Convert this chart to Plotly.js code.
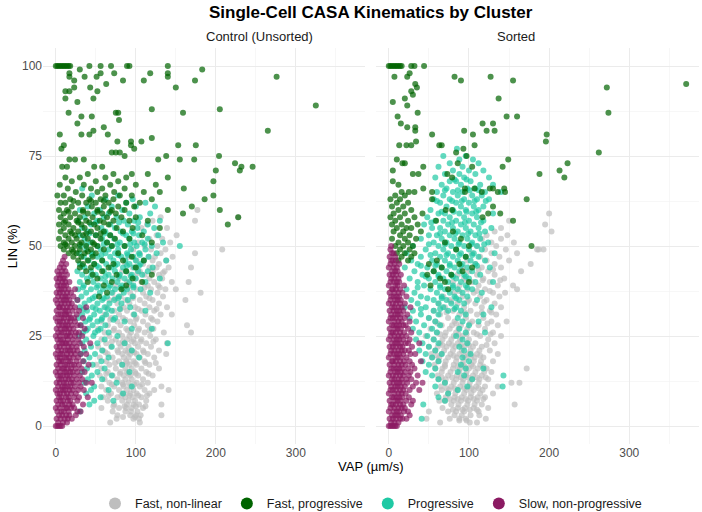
<!DOCTYPE html>
<html>
<head>
<meta charset="utf-8">
<script src="https://cdn.plot.ly/plotly-3.0.1.min.js"></script>
<style>
  html, body { margin: 0; padding: 0; background: #ffffff; }
  #chart { width: 702px; height: 512px; }
</style>
</head>
<body>
<div id="chart"></div>
<script>
// cluster names and colours, legend order
const clusters = ['Fast, non-linear', 'Fast, progressive', 'Progressive', 'Slow, non-progressive'];
const colors = ['#BEBEBE', '#006400', '#1FC9A4', '#8B1A62'];
const panels = ['Control (Unsorted)', 'Sorted'];

// each row: [LIN (%), [VAP (um/s) of the cells at that LIN]]
// ---- Control (Unsorted) ----
const ctrlFastNonLinear = [
  [60, [177]], [58, [228, 131]], [57, [174, 121]], [56, [114]], [55, [107, 139]],
  [53, [126, 151]], [52, [117, 133]], [51, [103, 143]], [50, [111, 127]],
  [49, [208, 97, 137, 119]], [48, [174, 105, 131]], [47, [91, 116, 124, 146]],
  [46, [101, 121, 138]], [45, [87, 109, 129]], [44, [169, 96, 117, 126, 141]],
  [43, [83, 105, 121, 136]], [42.5, [102, 134]], [42, [93, 111, 129]], [41, [79, 99, 117, 133]],
  [40, [166, 89, 107, 123, 145]], [39, [75, 95, 115, 128]], [38.5, [90, 111, 130]],
  [38, [150, 85, 101, 119, 137]], [37, [181, 71, 93, 109, 127]], [36, [81, 97, 113, 134]],
  [35.5, [74, 96, 117]], [35, [162, 67, 87, 105, 121]], [34, [77, 92, 111, 129]],
  [33, [63, 85, 99, 117, 139]], [32.5, [81, 103, 126]], [32, [73, 89, 107, 123]],
  [31, [145, 61, 79, 97, 112, 131]], [30, [69, 84, 101, 119]], [29.5, [68, 87, 100, 121]],
  [29, [57, 77, 93, 109, 127]], [28, [164, 65, 81, 98, 115]], [27, [53, 73, 88, 104, 122]],
  [26.5, [72, 90, 103, 117]], [26, [169, 61, 79, 94, 111, 135]], [25, [67, 83, 92, 101, 118]],
  [24, [57, 75, 89, 97, 107, 125]], [23.5, [70, 84, 95, 106, 122]], [23, [63, 79, 86, 99, 113, 139]],
  [22, [53, 69, 81, 91, 103, 119]], [21, [59, 77, 87, 95, 109, 129]], [20.5, [62, 78, 90, 98, 110]],
  [20, [138, 65, 83, 93, 101, 115]], [19, [55, 71, 85, 91, 105, 123]], [18, [63, 79, 88, 97, 111]],
  [17.5, [74, 89, 99, 112, 125]], [17, [51, 67, 83, 92, 101, 117]], [16, [57, 75, 87, 95, 107, 129]],
  [15, [65, 81, 89, 99, 113]], [14.5, [63, 80, 91, 100, 116]], [14, [55, 71, 85, 93, 103, 121]],
  [13, [61, 77, 87, 95, 109]], [12, [67, 83, 91, 101, 115]], [11.5, [70, 84, 98, 108]],
  [11, [132, 57, 73, 85, 93, 105]], [10, [141, 63, 79, 89, 97, 111, 123]], [9, [69, 85, 93, 101, 117]],
  [8.5, [66, 82, 92, 103, 114]], [8, [59, 77, 87, 96, 107]], [7, [65, 83, 91, 99, 113]],
  [6, [132, 73, 89, 97, 104]], [5.5, [72, 86, 100, 112]], [5, [57, 79, 88, 95, 109]],
  [4, [71, 87, 94, 102]], [3, [132, 77, 93, 100, 106]], [2.5, [84, 99]], [2, [76, 97, 104]],
  [1, [68, 105]]
];
const ctrlFastProgressive = [
  [100, [0, 2, 4, 6, 8, 10, 12, 14, 16, 18, 42, 56, 69, 89, 92, 140]],
  [99, [30, 183]], [98, [17, 56, 73, 118, 140]], [97, [17, 36, 51, 140, 276]],
  [96, [23, 84, 110, 174]], [95, [63]], [94, [23, 43, 150]], [93, [12, 17, 52]],
  [91, [12, 47]], [90, [27]], [89, [325]], [88, [120, 205]], [87, [16, 75, 78, 159]],
  [86, [32, 45]], [85, [79]], [84, [27]], [83, [60]], [82, [47, 265]],
  [81, [5, 32, 42, 65]], [80, [120]], [79, [77, 94, 107]], [78, [10, 94, 153, 175]],
  [77, [7, 98]], [76, [70, 75, 80]], [75, [86, 138, 204]], [74, [17, 24, 35, 128, 155, 173]],
  [73, [224]], [72, [8, 14, 48, 58, 232, 246]], [71, [200, 230]], [70, [40, 72, 95, 115]],
  [69, [12, 30, 62, 88, 140]], [68, [20, 50, 78, 197]], [67, [5, 35, 68, 100, 125]],
  [66, [15, 44, 58, 86, 160]], [65, [25, 52, 73, 110, 130]], [64, [2, 10, 33, 62, 80, 95, 197]],
  [63, [18, 42, 56, 72, 120, 186]], [62.5, [22, 44, 60]], [62, [6, 12, 28, 38, 50, 66, 88, 105]],
  [61, [20, 45, 60, 78, 98, 170]], [60, [4, 14, 34, 52, 70, 86, 140, 205]],
  [59.5, [16, 34, 52, 68]], [59, [10, 24, 40, 58, 75, 159]], [58, [6, 18, 30, 46, 64, 82, 100, 228]],
  [57, [12, 26, 38, 55, 72, 92, 115]], [56.5, [10, 28, 42, 60]], [56, [4, 16, 32, 48, 66, 215]],
  [55, [10, 22, 36, 52, 76, 96, 130]], [54, [6, 18, 28, 44, 60, 84]], [53.5, [20, 38, 56]],
  [53, [12, 24, 34, 50, 68, 108]], [52, [4, 16, 26, 40, 56, 74, 92]],
  [51, [10, 20, 32, 46, 64, 120]], [50.5, [12, 30, 48]], [50, [6, 14, 24, 38, 52, 70, 86]],
  [49, [10, 20, 30, 44, 60]], [48.5, [22, 40]], [48, [16, 26, 36, 50, 78]], [47, [22, 32, 46, 95]],
  [46, [28, 40, 58, 84, 110]], [45, [34, 48, 72]], [44, [30, 44, 66, 100]],
  [43, [38, 58, 88]], [42, [46, 76, 120]], [41, [52, 96]], [40, [40, 70, 108]],
  [39, [60, 88]], [38, [82]], [37, [64]], [36, [54]]
];
const ctrlProgressive = [
  [66, [33]], [64, [45, 78]], [63, [62, 96]], [62, [88, 112]], [61, [40, 70, 100, 124]],
  [60, [30, 55, 83]], [59, [48, 66, 92, 118]], [58, [36, 60, 76, 105]],
  [57, [28, 52, 85, 98, 130]], [56.5, [50, 79, 103]], [56, [44, 68, 90, 115]],
  [55, [33, 57, 74, 102, 123]], [54, [40, 62, 81, 95, 110]], [53.5, [42, 61, 84, 97]],
  [53, [30, 50, 68, 88, 104, 128]], [52, [36, 58, 73, 92, 115]],
  [51, [44, 64, 80, 98, 108, 134]], [50.5, [38, 60, 77, 93, 111]], [50, [31, 52, 70, 86, 101, 120, 155]],
  [49, [38, 56, 66, 78, 94, 112]], [48, [29, 46, 62, 74, 89, 104, 126]],
  [47.5, [45, 57, 78, 90, 105]], [47, [35, 52, 68, 82, 97, 116]], [46, [41, 58, 72, 87, 100, 110, 138]],
  [45, [30, 48, 63, 77, 92, 106]], [44.5, [33, 51, 74, 89, 104]], [44, [36, 54, 69, 84, 98, 121]],
  [43, [27, 44, 60, 74, 88, 103, 115]], [42, [33, 50, 66, 80, 95, 108]],
  [41.5, [44, 62, 79, 94]], [41, [39, 56, 71, 86, 100, 130]], [40, [30, 47, 62, 77, 92, 112]],
  [39, [35, 53, 68, 83, 97]], [38.5, [34, 51, 66, 81, 97]], [38, [28, 44, 59, 74, 89, 106]],
  [37, [38, 55, 70, 85, 118]], [36, [32, 49, 64, 79, 96]], [35.5, [46, 60, 78]],
  [35, [27, 42, 58, 73, 90]], [34, [36, 52, 67, 82]], [33, [30, 46, 61, 93]],
  [32.5, [35, 50, 65, 80]], [32, [39, 55, 70, 112]], [31, [33, 48, 63, 98]],
  [30, [28, 43, 58, 74]], [29.5, [42, 57, 72]], [29, [37, 52, 86]], [28, [31, 46, 62]],
  [27, [40, 56, 95, 120]], [26.5, [38, 53]], [26, [34, 49, 66]], [25, [29, 47, 77]],
  [24, [38, 61]], [23, [33, 52, 86, 140]], [22, [44, 70]], [21, [36, 58, 95]],
  [20, [31, 49]], [19, [42, 66, 104]], [18, [35, 57]], [17, [46, 83]], [16, [39, 61]],
  [15, [33, 52, 92]], [14, [45, 70]], [13, [40, 58]], [12, [36, 76]], [11, [48, 95]],
  [10, [44, 66]], [9, [38, 84]], [8, [56]], [7, [48, 72]], [6, [42]], [4, [30]]
];
const ctrlSlow = [
  [0, [0, 2, 4, 6, 8]], [1, [3, 9, 14]], [2, [1, 6, 11, 15, 20]], [3, [4, 8, 13, 17, 25]],
  [4, [2, 7, 10, 16, 27, 31]], [5, [0, 5, 12, 14, 19, 23]], [6, [3, 8, 11, 17, 21, 34]],
  [7, [1, 6, 9, 15, 18, 27]], [8, [4, 7, 13, 16, 23, 29, 40]], [9, [2, 5, 10, 14, 19, 25]],
  [10, [0, 6, 9, 12, 17, 21, 28, 35]], [11, [3, 8, 11, 15, 18, 24, 31]],
  [12, [1, 5, 10, 13, 19, 22, 29, 38, 45]], [13, [4, 7, 12, 16, 20, 26, 33]],
  [14, [2, 6, 9, 14, 17, 23, 30]], [15, [0, 5, 11, 13, 18, 21, 27, 36]],
  [16, [3, 8, 10, 15, 19, 25, 32]], [17, [1, 6, 12, 14, 20, 23, 29, 41]],
  [18, [4, 7, 9, 16, 18, 26, 34]], [19, [2, 5, 11, 13, 17, 22, 28]],
  [20, [0, 6, 8, 14, 19, 24, 31, 38]], [21, [3, 7, 12, 15, 18, 22, 27]],
  [22, [1, 5, 10, 16, 20, 26, 35]], [23, [4, 8, 11, 13, 17, 23, 30, 43]],
  [24, [2, 6, 9, 15, 21, 28]], [25, [0, 5, 12, 14, 18, 24, 33]],
  [26, [3, 7, 10, 16, 19, 25, 29]], [27, [1, 6, 11, 13, 17, 22, 36]],
  [28, [4, 8, 12, 15, 20, 27, 31]], [29, [2, 5, 9, 14, 18, 24]],
  [30, [0, 7, 10, 16, 19, 23, 34]], [31, [3, 6, 11, 13, 17, 26]], [32, [1, 8, 12, 15, 21, 29]],
  [33, [4, 5, 9, 14, 18, 24, 38]], [34, [2, 7, 11, 16, 20]], [35, [0, 6, 10, 13, 17, 27]],
  [36, [3, 8, 12, 15, 22]], [37, [1, 5, 9, 14, 19]], [38, [4, 7, 11, 16, 24]],
  [39, [2, 6, 10, 13]], [40, [3, 8, 12, 17]], [41, [1, 5, 9, 11]], [42, [4, 7, 14]],
  [43, [2, 8, 12]], [44, [5, 10]], [45, [7, 13]], [46, [9]], [47, [11]]
];

// ---- Sorted ----
const sortFastNonLinear = [
  [59, [200]], [57, [150]], [56, [195]], [55, [140]], [54, [203, 132]], [53, [122, 148]],
  [52, [116, 140]], [51, [128, 156]], [50, [110, 134]], [49, [185, 187, 193, 120, 146]],
  [48, [104, 128, 160]], [47, [114, 138]], [46, [98, 122, 150]], [45, [177, 108, 132]],
  [44, [92, 116, 140]], [43.5, [112, 130]], [43, [100, 124, 165]], [42, [86, 110, 132]],
  [41, [94, 118, 144]], [40.5, [96, 117, 139]], [40, [80, 104, 126]], [39, [88, 112, 136, 155]],
  [38, [160, 74, 98, 120]], [37.5, [88, 110, 126]], [37, [145, 82, 106, 130]],
  [36, [68, 92, 114, 138]], [35, [76, 100, 122]], [34.5, [78, 98, 119]],
  [34, [62, 86, 108, 132]], [33, [70, 94, 116, 140]], [32, [56, 80, 102, 126]],
  [31.5, [72, 95, 116, 128]], [31, [64, 88, 110, 134]], [30, [50, 74, 96, 118]],
  [29, [147, 58, 82, 104, 128]], [28.5, [61, 84, 101, 123]],
  [28, [66, 79, 90, 112, 136]], [27, [52, 76, 87, 98, 120]], [26, [60, 71, 84, 106, 130]],
  [25.5, [64, 87, 97, 110, 127]], [25, [46, 70, 81, 92, 114, 140]],
  [24, [56, 67, 78, 89, 100, 124]], [23, [64, 75, 86, 97, 108, 132]],
  [22.5, [67, 79, 90, 100, 122]], [22, [50, 61, 72, 83, 94, 105, 116]],
  [21, [58, 69, 80, 91, 102, 113, 126]], [20, [53, 66, 77, 88, 99, 110, 136]],
  [19.5, [60, 81, 94, 103, 114]], [19, [54, 63, 74, 85, 96, 107, 118]],
  [18, [62, 71, 84, 93, 106, 115, 130]], [17, [57, 70, 81, 92, 103, 114]],
  [16.5, [70, 86, 95, 105, 118]], [16, [172, 58, 67, 80, 89, 100, 111, 122]],
  [15, [66, 77, 88, 97, 108, 119, 128]], [14, [61, 74, 85, 96, 105, 116]],
  [13.5, [66, 79, 90, 99, 110, 121]], [13, [62, 71, 84, 93, 104, 113, 124]],
  [12, [153, 163, 70, 81, 92, 101, 112]], [11, [65, 78, 89, 100, 109, 120, 136]],
  [10.5, [72, 82, 94, 103, 112]], [10, [66, 75, 86, 97, 106, 117]],
  [9, [60, 74, 83, 94, 103, 114, 130]], [8, [71, 82, 91, 102, 111, 120]],
  [7.5, [76, 86, 96, 106, 118]], [7, [63, 70, 81, 90, 99, 110]],
  [6, [157, 78, 87, 98, 107, 116]], [5, [67, 86, 95, 106, 124]], [4.5, [80, 92, 101, 110]],
  [4, [50, 74, 84, 94, 112]], [3, [82, 91, 102, 113]], [2, [47, 76, 88, 96, 121]],
  [1.5, [88, 97]], [1, [64, 101, 110]]
];
const sortFastProgressive = [
  [100, [0, 2, 4, 6, 8, 10, 12, 14, 16, 28, 32, 44]], [98, [26]], [97, [7, 23, 82, 127]],
  [96, [90, 155]], [95, [33, 371]], [94, [35, 272]], [93, [28]], [92, [30]], [91, [20, 137]],
  [90, [5]], [89, [23]], [87, [36, 274]], [86, [11, 147, 160]], [84, [15, 117, 130]],
  [83, [23, 33]], [82, [33, 94, 122, 132]], [81, [54, 105, 197]], [79, [34, 196]],
  [78, [13, 22, 28, 63, 66, 107]], [77, [93]], [76, [84, 262]], [75, [97]], [74, [10, 149]],
  [73, [17, 20, 86, 223]], [72, [43, 104, 142]], [71, [5, 213]], [70, [30, 37, 73, 188]],
  [69, [79, 219]], [68, [5]], [67, [12]], [66, [43, 95, 107, 126, 130, 144]],
  [65, [16, 25, 32, 54, 95, 116, 136, 145]], [64, [8, 20]], [63, [54, 172, 2, 14]],
  [62, [10, 24]], [61, [4, 18, 130]], [60, [71, 79, 12, 28]], [59, [42, 124, 139, 6, 20]],
  [58, [117, 2, 14, 32]], [57, [59, 155, 8, 24]], [56, [4, 16, 36]], [55, [10, 22, 28]],
  [54, [6, 18, 40, 80]], [53, [14, 26]], [52, [4, 20, 34, 90]], [51, [12, 24, 70]],
  [50, [178, 8, 18, 30, 100]], [49, [14, 26, 84]], [48, [10, 20, 32]], [47, [16, 28, 96]],
  [46, [12, 24, 60]], [45, [50, 88]], [44, [66, 104]], [43, [56, 92]], [42, [48, 78]],
  [41, [64]], [40, [70, 100]], [39, [52]], [38, [74]]
];
const sortProgressive = [
  [77, [85]], [75, [68, 96]], [74, [88, 105]], [73, [76, 112]], [72, [62, 92]],
  [71, [80, 100, 118]], [70, [70, 88, 108]], [69, [58, 94, 125]], [68.5, [82, 97]],
  [68, [76, 84, 102]], [67, [66, 90, 114, 130]], [66, [72, 98, 108]], [65.5, [70, 86, 101, 112]],
  [65, [60, 80, 92, 120, 140]], [64, [68, 86, 104, 116]], [63, [56, 76, 94, 110, 125]],
  [62.5, [60, 79, 91, 107, 121]], [62, [64, 84, 100]], [61, [72, 90, 106, 118]],
  [60, [52, 80, 96, 112]], [59.5, [66, 81, 97, 109]], [59, [62, 70, 88, 104, 130]],
  [58, [48, 76, 94, 110]], [57, [58, 68, 84, 100, 118]], [56.5, [53, 79, 95, 115]],
  [56, [44, 74, 90, 106]], [55, [54, 64, 80, 96, 112, 128]], [54, [70, 86, 102, 120]],
  [53.5, [64, 83, 99, 113]], [53, [50, 60, 76, 92, 108]], [52, [40, 66, 82, 98, 114]],
  [51, [56, 72, 88, 104, 124]], [50.5, [50, 70, 87, 103, 119]], [50, [30, 62, 78, 94, 110]],
  [49, [46, 68, 84, 100, 116]], [48, [22, 58, 74, 90, 106, 132]], [47.5, [52, 72, 88, 104]],
  [47, [40, 64, 80, 96, 112]], [46, [28, 54, 70, 86, 102, 120]], [45, [36, 60, 76, 92, 108]],
  [44.5, [40, 58, 76, 90, 110]], [44, [20, 48, 66, 82, 98, 126]], [43, [32, 56, 72, 88, 104]],
  [42, [42, 62, 78, 94, 114]], [41.5, [46, 62, 80, 96]], [41, [26, 50, 68, 84, 100]],
  [40, [36, 58, 74, 90, 108, 130]], [39, [44, 64, 80, 96]], [38.5, [36, 64, 80, 98]],
  [38, [22, 52, 70, 86, 104]], [37, [32, 60, 76, 92, 116]], [36, [40, 66, 82, 98]],
  [35.5, [48, 66, 84]], [35, [28, 56, 72, 88, 110]], [34, [36, 62, 78, 94]],
  [33, [20, 46, 68, 84, 128]], [32.5, [40, 64, 82]], [32, [30, 56, 74, 90]],
  [31, [40, 62, 96, 118]], [30, [26, 50, 86]], [29, [34, 58, 92, 112]], [28, [44, 64, 100]],
  [27, [30, 54, 88]], [26, [38, 60, 96, 120]], [25, [48, 84]], [24, [34, 56, 92]],
  [23, [42, 62, 98]], [22, [50, 88]], [21, [38, 58, 94]], [20, [46, 66, 102]], [19, [54, 92]],
  [18, [42, 62, 100]], [17, [50, 90]], [16, [58, 96, 118]], [15, [46, 86]],
  [14, [54, 94, 143]], [13, [62, 104]], [12, [70]], [11, [58, 98, 142]], [10, [86]],
  [9, [74]], [8, [62]], [7, [70]], [6, [43]], [2, [41]]
];
const sortSlow = [
  [0, [0, 2, 4, 6, 8, 10]], [1, [3, 7, 12]], [2, [1, 5, 9, 14, 17, 22]], [3, [4, 8, 11, 15, 26]],
  [4, [0, 6, 10, 13, 19, 24]], [5, [2, 7, 12, 16, 20]], [6, [3, 5, 9, 14, 18, 28]],
  [7, [1, 8, 11, 15, 22, 30]], [8, [4, 6, 10, 13, 17, 25]], [9, [0, 7, 12, 16, 21]],
  [10, [2, 5, 9, 14, 18, 26, 38]], [11, [3, 8, 11, 15, 20, 30]],
  [12, [1, 6, 10, 13, 17, 23, 34, 42]], [13, [4, 7, 12, 16, 22, 28]],
  [14, [0, 5, 9, 14, 18, 25, 36]], [15, [2, 8, 11, 15, 20, 27]],
  [16, [3, 6, 10, 13, 17, 24, 32]], [17, [1, 7, 12, 16, 21, 29]],
  [18, [4, 5, 9, 14, 19, 26, 40]], [19, [0, 8, 11, 15, 22]], [20, [2, 6, 10, 13, 18, 27, 33]],
  [21, [3, 7, 12, 16, 20, 25]], [22, [1, 5, 9, 14, 17, 29]], [23, [4, 8, 11, 15, 21, 24, 38]],
  [24, [0, 6, 10, 13, 18, 26]], [25, [2, 7, 12, 16, 22]], [26, [3, 5, 9, 14, 19, 28]],
  [27, [1, 8, 11, 15, 24]], [28, [4, 6, 10, 13, 18, 21]], [29, [0, 7, 12, 16, 26]],
  [30, [2, 5, 9, 14, 20]], [31, [3, 8, 11, 15, 23]], [32, [1, 6, 10, 13, 18]],
  [33, [4, 7, 12, 16, 27]], [34, [0, 5, 9, 14, 20]], [35, [2, 8, 11, 15]],
  [36, [3, 6, 10, 13, 22]], [37, [1, 7, 12, 17]], [38, [4, 5, 9, 14]], [39, [0, 8, 11, 19]],
  [40, [2, 6, 10, 13]], [41, [3, 7, 12]], [42, [1, 5, 9, 15]], [43, [4, 8, 11]],
  [44, [0, 6, 10]], [45, [2, 7, 13]], [46, [3, 5, 9]], [47, [1, 8]], [48, [4, 6]],
  [49, [2]], [50, [3]]
];

const ctrlData = [ctrlFastNonLinear, ctrlFastProgressive, ctrlProgressive, ctrlSlow];
const sortData = [sortFastNonLinear, sortFastProgressive, sortProgressive, sortSlow];

// unpack rows into x / y lists
function unpack(rows) {
  const x = [], y = [];
  rows.forEach(function(r) {
    r[1].forEach(function(v) { x.push(v); y.push(r[0]); });
  });
  return {x: x, y: y};
}

// draw order: grey, turquoise, green, purple
const drawOrder = [0, 2, 1, 3];
const traces = [];

[ctrlData, sortData].forEach(function(panel, p) {
  drawOrder.forEach(function(i) {
    const d = unpack(panel[i]);
    traces.push({
      type: 'scatter',
      mode: 'markers',
      x: d.x,
      y: d.y,
      xaxis: p === 0 ? 'x' : 'x2',
      yaxis: p === 0 ? 'y' : 'y2',
      marker: {color: colors[i], size: 6, opacity: 0.7, line: {width: 0}},
      showlegend: false,
      hoverinfo: 'skip'
    });
  });
});

// legend only entries (solid, larger dots)
clusters.forEach(function(name, i) {
  traces.push({
    type: 'scatter', mode: 'markers',
    x: [null], y: [null],
    name: name,
    marker: {color: colors[i], size: 12, opacity: 1},
    showlegend: true
  });
});

const FONT = 'Liberation Sans, Arial, sans-serif';
const gridCol = '#EBEBEB';

function xAxis(domain, anchor) {
  return {
    domain: domain, anchor: anchor,
    range: [-16, 387],
    tickvals: [0, 100, 200, 300],
    showgrid: true, gridcolor: gridCol, gridwidth: 1,
    minor: {tickvals: [50, 150, 250, 350], showgrid: true, gridcolor: '#F2F2F2', gridwidth: 0.6},
    zeroline: false, showline: false, ticks: '', automargin: false,
    tickfont: {family: FONT, size: 12, color: '#4D4D4D'}
  };
}
function yAxis(anchor, labels) {
  return {
    anchor: anchor,
    range: [-5, 105],
    tickvals: [0, 25, 50, 75, 100],
    showticklabels: labels,
    showgrid: true, gridcolor: gridCol, gridwidth: 1,
    minor: {tickvals: [12.5, 37.5, 62.5, 87.5], showgrid: true, gridcolor: '#F2F2F2', gridwidth: 0.6},
    zeroline: false, showline: false, ticks: '', automargin: false,
    tickfont: {family: FONT, size: 12, color: '#4D4D4D'}
  };
}

const layout = {
  width: 702, height: 512,
  margin: {l: 43, r: 3, t: 48, b: 68},
  paper_bgcolor: '#FFFFFF', plot_bgcolor: '#FFFFFF',
  font: {family: FONT, color: '#1A1A1A'},
  title: {
    text: '<b>Single-Cell CASA Kinematics by Cluster</b>',
    font: {family: FONT, size: 17, color: '#000000'},
    x: 0.528, xanchor: 'center', y: 0.977, yanchor: 'middle'
  },
  xaxis: xAxis([0, 0.4915], 'y'),
  yaxis: yAxis('x', true),
  xaxis2: xAxis([0.5076, 1], 'y2'),
  yaxis2: yAxis('x2', false),
  showlegend: true,
  legend: {
    orientation: 'h', x: 0.5, xanchor: 'center',
    yref: 'container', y: 0.016, yanchor: 'middle',
    font: {family: FONT, size: 12.5, color: '#1A1A1A'},
    itemwidth: 30
  },
  annotations: [
    {text: panels[0], xref: 'paper', yref: 'paper', x: 0.2457, y: 1.028, yanchor: 'middle',
     showarrow: false, font: {family: FONT, size: 13, color: '#1A1A1A'}},
    {text: panels[1], xref: 'paper', yref: 'paper', x: 0.7538, y: 1.028, yanchor: 'middle',
     showarrow: false, font: {family: FONT, size: 13, color: '#1A1A1A'}},
    {text: 'VAP (µm/s)', xref: 'paper', yref: 'paper', x: 0.5, y: -0.058, yanchor: 'middle',
     showarrow: false, font: {family: FONT, size: 13, color: '#000000'}},
    {text: 'LIN (%)', xref: 'paper', yref: 'paper', x: -0.047, y: 0.5, xanchor: 'center',
     textangle: -90, showarrow: false, font: {family: FONT, size: 13, color: '#000000'}}
  ]
};

Plotly.newPlot('chart', traces, layout, {displayModeBar: false, staticPlot: true});
</script>
</body>
</html>
